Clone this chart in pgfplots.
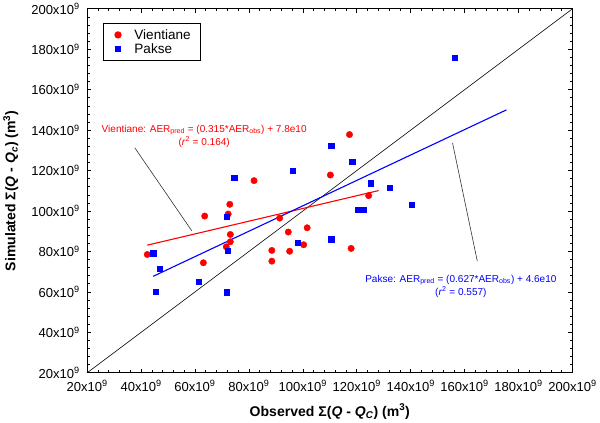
\documentclass[border=0pt]{standalone}
\usepackage{pgfplots}
\pgfplotsset{compat=1.18}
\usepackage{fontspec}
\setmainfont{Liberation Sans}
\pgfplotsset{mylegimg/.style={legend image code/.code={\path (0pt,0pt) (18pt,0pt); \draw[##1] plot coordinates {(9pt,0pt)};}}}
\begin{document}
\begin{tikzpicture}
\begin{axis}[
  width=484pt, height=363pt, scale only axis,
  xmin=20, xmax=200, ymin=20, ymax=200,
  xtick={20,40,...,200}, ytick={20,40,...,200},
  xticklabels={20x10\textsuperscript{9},40x10\textsuperscript{9},60x10\textsuperscript{9},80x10\textsuperscript{9},100x10\textsuperscript{9},120x10\textsuperscript{9},140x10\textsuperscript{9},160x10\textsuperscript{9},180x10\textsuperscript{9},200x10\textsuperscript{9}},
  yticklabels={20x10\textsuperscript{9},40x10\textsuperscript{9},60x10\textsuperscript{9},80x10\textsuperscript{9},100x10\textsuperscript{9},120x10\textsuperscript{9},140x10\textsuperscript{9},160x10\textsuperscript{9},180x10\textsuperscript{9},200x10\textsuperscript{9}},
  minor tick num=4,
  tick align=inside,
  major tick length=4pt, minor tick length=2.5pt,
  tick style={black, line width=0.6pt},
  axis line style={line width=1.2pt},
  ticklabel style={font=\fontsize{13}{15}\selectfont},
  yticklabel style={xshift=-4pt},
  xticklabel style={yshift=-4pt},
  xlabel={\textbf{Observed Σ(\textit{Q} - \textit{Q}\textsubscript{\textit{C}}) (m\textsuperscript{3})}},
  ylabel={\textbf{Simulated Σ(\textit{Q} - \textit{Q}\textsubscript{\textit{c}}) (m\textsuperscript{3})}},
  label style={font=\fontsize{14}{16}\selectfont},
  xlabel style={yshift=-6pt},
  ylabel style={yshift=6pt},
  legend style={at={(rel axis cs:0.033,0.96)}, anchor=north west, draw=black, line width=0.8pt, font=\fontsize{13.5}{15}\selectfont, row sep=0pt, inner xsep=5pt, inner ysep=4pt, nodes={inner xsep=5pt, inner ysep=1.5pt}, /tikz/every odd column/.append style={column sep=2pt}},
  legend cell align=left,
  clip=false,
]
\addplot[only marks, mark=*, mark size=3.2pt, color=red, mark options={fill=red, draw=red}, mylegimg] coordinates {
(42.3,78.5) (63.1,74.4) (63.6,97.5) (71.6,82.3) (73.1,88.4) (73.1,84.8) (72.3,98.5) (72.9,103.3)
(81.9,115) (88.5,80.5) (88.5,75.2) (91.4,96.5) (94.6,89.6) (95.1,80.1) (101.6,91.7) (100.3,83.3)
(117.9,81.5) (117.3,137.8) (110.2,117.8) (124.4,107.6)
};
\addlegendentry{Vientiane}
\addplot[only marks, mark=square*, mark size=2.6pt, color=blue, mark options={fill=blue, draw=blue}, mylegimg] coordinates {
(44.5,79.1) (47,71.4) (45.3,60.2) (61.4,65.1) (71.8,59.8) (72.1,80.3) (71.8,97.3) (74.5,116.3)
(96.2,119.8) (110.5,132.2) (118.3,124.5) (125.2,113.7) (120.4,100.7) (122.6,100.7) (98.1,84.3)
(110.5,86.1) (132.2,111.4) (140.5,103.1) (156.3,175.8)
};
\addlegendentry{Pakse}
\addplot[black, line width=0.6pt, forget plot] coordinates {(20,20) (200,200)};
\addplot[red, line width=1.1pt, forget plot] coordinates {(42.3,83.1) (128.1,110.1)};
\addplot[blue, line width=1.1pt, forget plot] coordinates {(44.5,67.7) (175.5,150)};
\addplot[black!80, line width=0.6pt, forget plot] coordinates {(37.7,131.2) (58.8,90.2)};
\addplot[black!80, line width=0.6pt, forget plot] coordinates {(155.5,133.7) (164.7,75.2)};
\node[red, align=center, font=\fontsize{10}{13}\selectfont] at (axis cs:63.4,137) {Vientiane: AER\textsubscript{pred} = (0.315*AER\textsubscript{obs}) + 7.8e10\\(\textit{r}\textsuperscript{2} = 0.164)};
\node[blue, align=center, font=\fontsize{10}{13}\selectfont] at (axis cs:158.6,62.8) {Pakse: AER\textsubscript{pred} = (0.627*AER\textsubscript{obs}) + 4.6e10\\(\textit{r}\textsuperscript{2} = 0.557)};
\end{axis}
\end{tikzpicture}
\end{document}
